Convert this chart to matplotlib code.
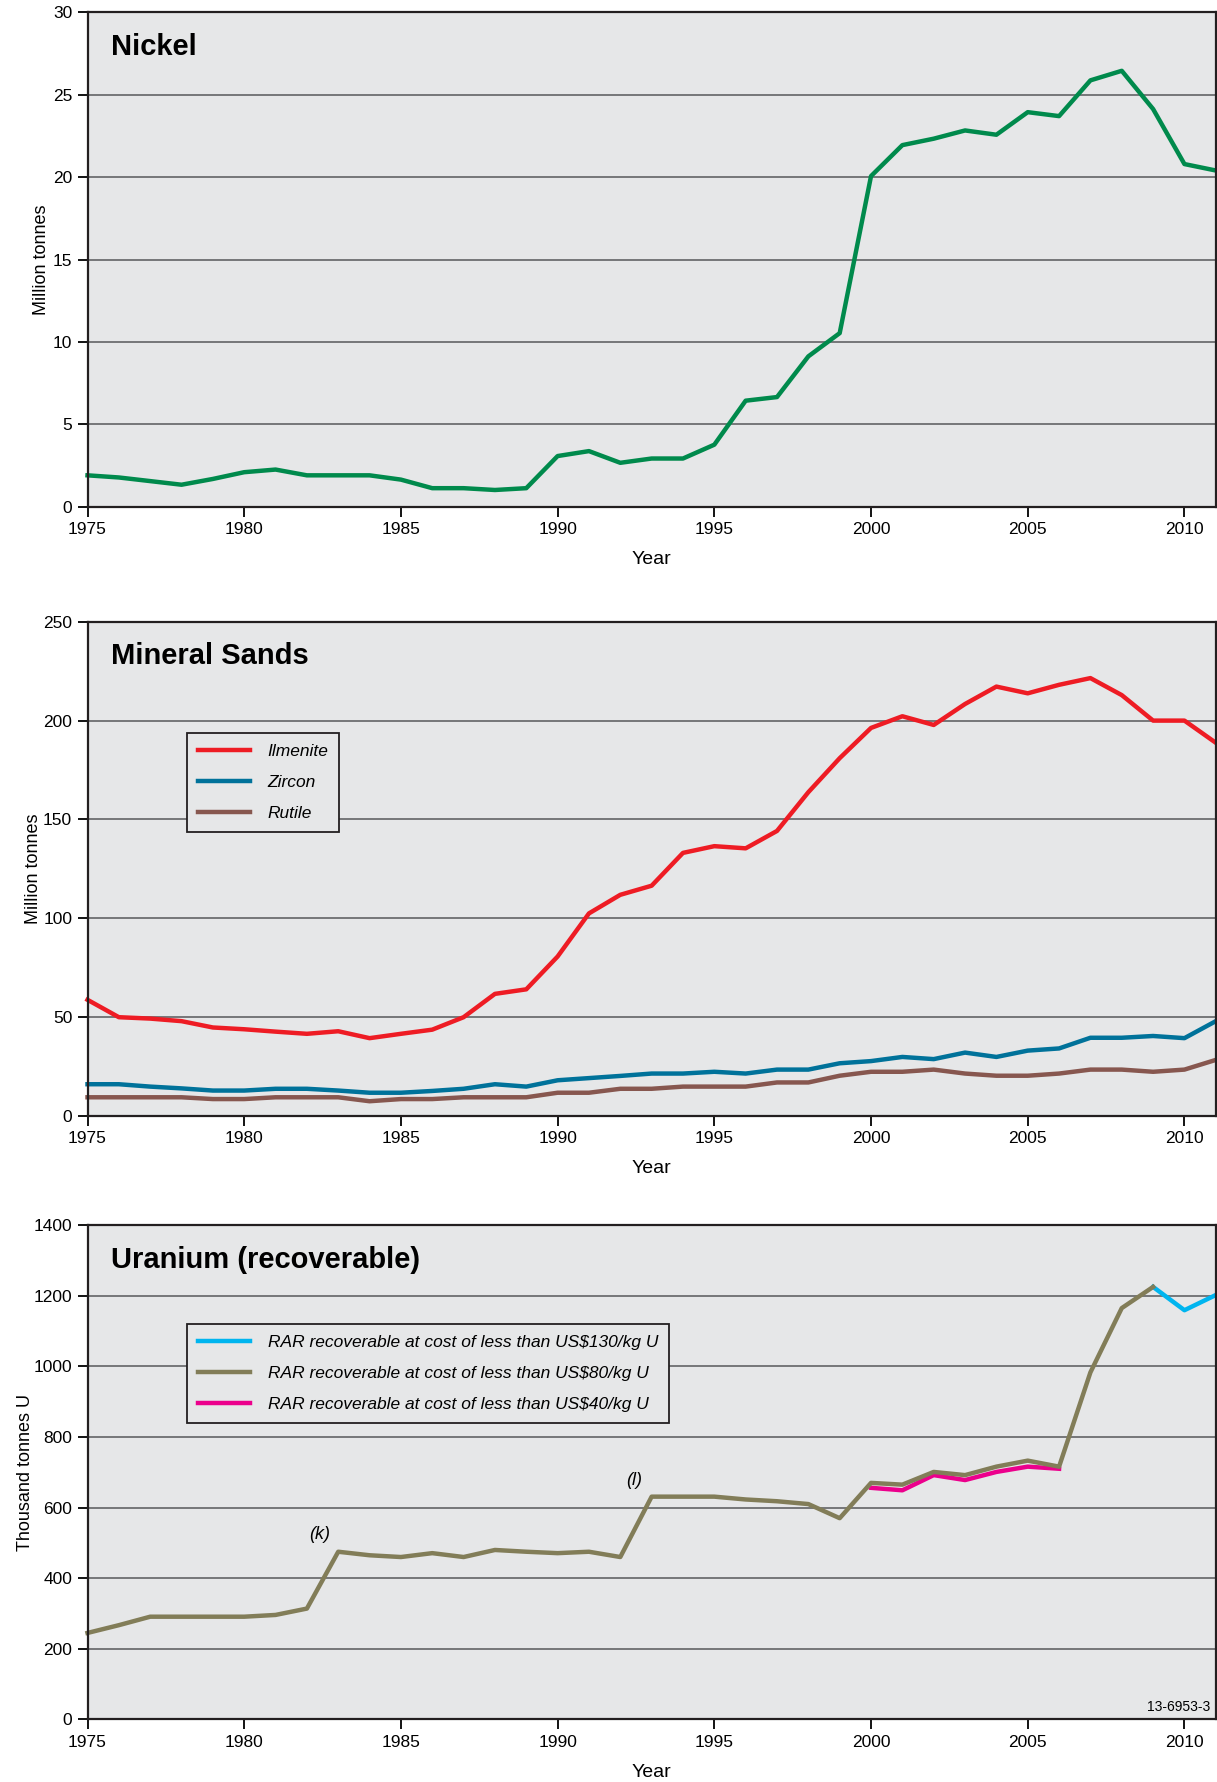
import matplotlib.pyplot as plt
from matplotlib import font_manager

years = list(range(1975, 2012))

nickel = [1.91, 1.78, 1.56, 1.34, 1.69, 2.1, 2.26, 1.91, 1.91, 1.91, 1.65, 1.13, 1.13, 1.02, 1.13,
          3.08, 3.38, 2.67, 2.93, 2.93, 3.77, 6.44, 6.66, 9.13, 10.54, 20.07, 21.95, 22.34, 22.84,
          22.58, 23.95, 23.71, 25.88, 26.46, 24.14, 20.8, 20.41]

ilmenite = [58.8, 50.0, 49.3, 48.0, 44.8, 43.9, 42.7, 41.6, 42.9, 39.4, 41.6, 43.7, 50.0, 61.8, 64.1,
            80.7, 102.5, 111.9, 116.5, 133.1, 136.5, 135.4, 144.2, 163.8, 181.0, 196.3, 202.2, 197.8,
            208.4, 217.2, 213.8, 218.1, 221.5, 212.9, 200.0, 200.0, 188.8]
zircon = [16.1, 16.1, 14.9, 14.0, 12.9, 12.9, 13.8, 13.8, 12.9, 11.8, 11.8, 12.7, 13.8, 16.1, 14.9,
          18.1, 19.2, 20.3, 21.5, 21.5, 22.4, 21.5, 23.5, 23.5, 26.7, 27.8, 29.9, 28.8, 32.1, 29.9,
          33.1, 34.2, 39.6, 39.6, 40.5, 39.4, 48.0]
rutile = [9.5, 9.5, 9.5, 9.5, 8.6, 8.6, 9.5, 9.5, 9.5, 7.5, 8.6, 8.6, 9.5, 9.5, 9.5, 11.8, 11.8,
          13.8, 13.8, 14.9, 14.9, 14.9, 17.0, 17.0, 20.4, 22.4, 22.4, 23.5, 21.5, 20.4, 20.4, 21.5,
          23.5, 23.5, 22.4, 23.5, 28.4]

u80_years = list(range(1975, 2010))
u80 = [245, 267, 291, 291, 291, 291, 296, 314, 475, 465, 460, 471, 460, 480, 475, 471, 475, 460,
       631, 631, 631, 623, 618, 610, 570, 670, 665, 701, 692, 716, 733, 716, 983, 1165, 1225]
u130_years = [2009, 2010, 2011]
u130 = [1225, 1159, 1202]
u40_years = list(range(2000, 2007))
u40 = [656, 649, 692, 678, 701, 716, 710]

avail = {f.name for f in font_manager.fontManager.ttflist}
narrow = 'Liberation Sans Narrow' if 'Liberation Sans Narrow' in avail else 'Liberation Sans'
plt.rcParams['font.family'] = [narrow, 'DejaVu Sans']

bg = '#e6e7e8'
fig = plt.figure(figsize=(12.17, 17.82), dpi=100)
left, width = 0.0719, 0.9271
axs = [fig.add_axes([left, 0.7156, width, 0.2774]),
       fig.add_axes([left, 0.3737, width, 0.2774]),
       fig.add_axes([left, 0.0351, width, 0.2774])]
leg_kw = dict(loc='upper left', fancybox=False, edgecolor='#231f20', facecolor=bg,
              framealpha=1, handlelength=3.0, labelspacing=0.92, borderpad=0.62,
              handletextpad=1.0, borderaxespad=0,
              prop={'family': 'Liberation Sans', 'style': 'italic', 'size': 12.5})


def style(ax, ymax, step, ylabel, title, lx):
    ax.set_facecolor(bg)
    ax.set_xlim(1975, 2011)
    ax.set_ylim(0, ymax)
    ax.set_xticks(range(1975, 2011, 5))
    ax.set_yticks(range(0, ymax + 1, step))
    ax.yaxis.grid(True, color='#6d6e70', lw=1.3)
    ax.set_axisbelow(True)
    ax.tick_params(direction='out', length=7, width=1.3, labelsize=12.5, pad=4)
    for s in ax.spines.values():
        s.set_linewidth(1.6)
        s.set_color('#231f20')
    ax.set_ylabel(ylabel, fontsize=13)
    ax.yaxis.set_label_coords(lx, 0.5)
    ax.set_xlabel('Year', fontsize=14, labelpad=10)
    ax.text(0.021, 0.93, title, transform=ax.transAxes, fontsize=21, fontweight='bold',
            family='Liberation Sans', va='center', ha='left')


ax = axs[0]
style(ax, 30, 5, 'Million tonnes', 'Nickel', -0.033)
ax.plot(years, nickel, color='#008a4c', lw=3.2, clip_on=False)

ax = axs[1]
style(ax, 250, 50, 'Million tonnes', 'Mineral Sands', -0.04)
ax.plot(years, ilmenite, color='#ee1c24', lw=3.2, label='Ilmenite', clip_on=False)
ax.plot(years, zircon, color='#00729a', lw=3.2, label='Zircon', clip_on=False)
ax.plot(years, rutile, color='#87574f', lw=3.2, label='Rutile', clip_on=False)
leg = ax.legend(bbox_to_anchor=(0.0886, 0.775), **leg_kw)
leg.get_frame().set_linewidth(1.3)

ax = axs[2]
style(ax, 1400, 200, 'Thousand tonnes U', 'Uranium (recoverable)', -0.047)
l130, = ax.plot(u130_years, u130, color='#00b5ef', lw=3.2, clip_on=False,
                label='RAR recoverable at cost of less than US$130/kg U')
l40, = ax.plot(u40_years, u40, color='#ec008c', lw=3.2, clip_on=False,
               label='RAR recoverable at cost of less than US$40/kg U')
l80, = ax.plot(u80_years, u80, color='#827d58', lw=3.2, clip_on=False,
               label='RAR recoverable at cost of less than US$80/kg U')
leg = ax.legend(handles=[l130, l80, l40], bbox_to_anchor=(0.0886, 0.8), **leg_kw)
leg.get_frame().set_linewidth(1.3)
ax.text(1982.4, 523, '(k)', fontsize=13, style='italic', family='Liberation Sans',
        ha='center', va='center')
ax.text(1992.45, 678, '(l)', fontsize=13, style='italic', family='Liberation Sans',
        ha='center', va='center')
ax.text(0.995, 0.012, '13-6953-3', transform=ax.transAxes, fontsize=10, ha='right', va='bottom')

fig.savefig('out.png', dpi=100)
